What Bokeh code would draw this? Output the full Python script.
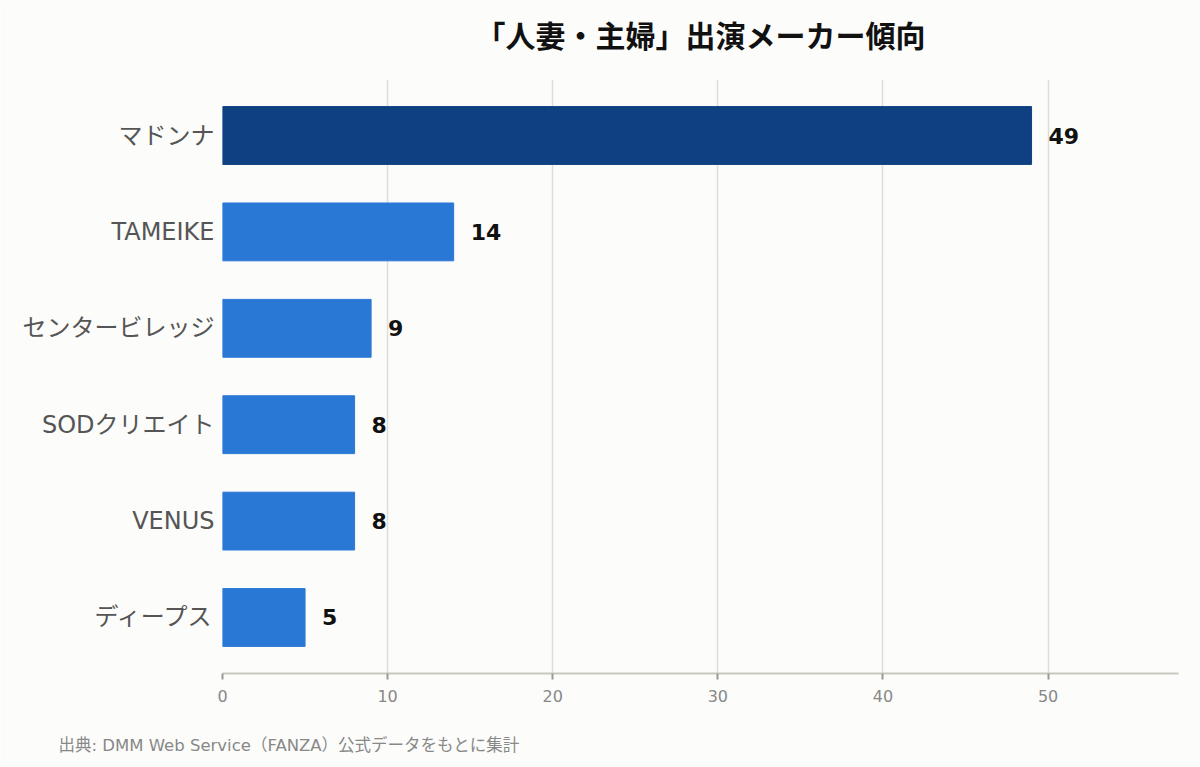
from bokeh.plotting import figure
from bokeh.models import FactorRange, Range1d, ColumnDataSource, FixedTicker, Title
from bokeh.core.properties import value
from bokeh.embed import file_html
from bokeh.resources import INLINE

makers = ["マドンナ", "TAMEIKE", "センタービレッジ", "SODクリエイト", "VENUS", "ディープス"]
counts = [49, 14, 9, 8, 8, 5]
colors = ["#0f4182", "#2a78d6", "#2a78d6", "#2a78d6", "#2a78d6", "#2a78d6"]
x_ticks = [0, 10, 20, 30, 40, 50]
title_text = "「人妻・主婦」出演メーカー傾向"
source_text = "出典: DMM Web Service（FANZA）公式データをもとに集計"

FONT = "DejaVu Sans, 'Noto Sans CJK JP'"
BG = "#fcfcfa"

src = ColumnDataSource(dict(maker=makers, count=counts, color=colors,
                            label=[str(c) for c in counts]))

p = figure(width=1200, height=767, output_backend="svg", toolbar_location=None,
           title_location=None,
           y_range=FactorRange(factors=list(reversed(makers)), range_padding=0.027),
           x_range=Range1d(0, 57.9),
           min_border_left=222, min_border_right=22, min_border_top=79, min_border_bottom=94)
p.background_fill_color = BG
p.border_fill_color = BG
p.outline_line_color = None

p.hbar(y="maker", right="count", left=0, height=0.6, color="color", source=src)
p.text(x="count", y="maker", text="label", source=src, x_offset=17,
       text_baseline="middle", text_align="left", text_font=value(FONT),
       text_font_style="bold", text_font_size="22px", text_color="#111111")

p.xaxis.ticker = FixedTicker(ticks=x_ticks)
p.xaxis.axis_line_color = "#c8c8c0"
p.xaxis.axis_line_width = 2
p.xaxis.major_tick_line_color = "#999999"
p.xaxis.major_tick_line_width = 2
p.xaxis.major_tick_out = 6
p.xaxis.major_tick_in = 0
p.xaxis.minor_tick_line_color = None
p.xaxis.major_label_text_font = FONT
p.xaxis.major_label_text_font_size = "16px"
p.xaxis.major_label_text_color = "#888888"
p.xaxis.major_label_standoff = 10

p.yaxis.axis_line_color = None
p.yaxis.major_tick_line_color = None
p.yaxis.minor_tick_line_color = None
p.yaxis.major_label_text_font = FONT
p.yaxis.major_label_text_font_size = "24px"
p.yaxis.major_label_text_color = "#555555"
p.yaxis.major_label_standoff = 2

p.ygrid.grid_line_color = None
p.xgrid.grid_line_color = "#deddd7"
p.xgrid.grid_line_width = 1.5

# top: a background-coloured spacer nearest the frame, then the title
p.add_layout(Title(text=".", text_font_size="1px", text_color=BG, standoff=23), "above")
p.add_layout(Title(text=title_text, align="center", text_font=FONT, text_font_style="bold",
                   text_font_size="30px", text_color="#111111", standoff=0), "above")

# bottom: a background-coloured spacer below the axis, then the source note
p.add_layout(Title(text=".", text_font_size="1px", text_color=BG, standoff=26), "below")
p.add_layout(Title(text=source_text, align="left", offset=-164, text_font=FONT,
                   text_font_size="16.5px", text_font_style="normal", text_color="#888888",
                   standoff=0), "below")

open("out.html", "w").write(file_html(p, INLINE))
